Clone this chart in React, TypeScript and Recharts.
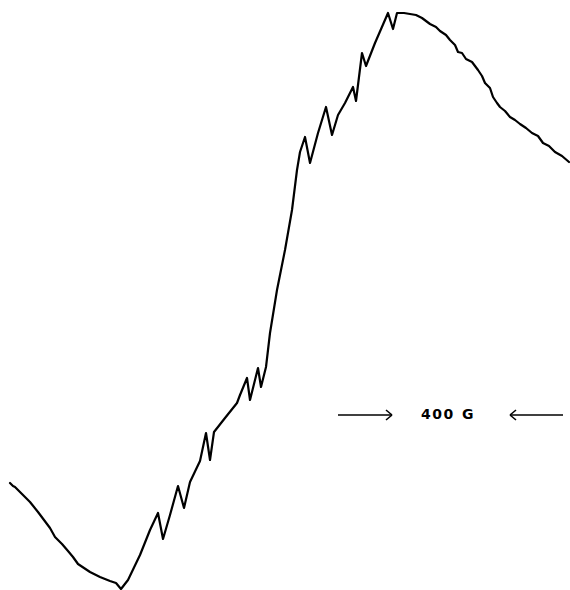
import * as React from "react";
import { LineChart, Line, XAxis, YAxis, ReferenceLine } from "recharts";

// field position (arbitrary units along the sweep) and signal amplitude
const fieldPos = [
  10, 13, 15, 22, 30, 38, 47, 50, 55, 62, 68, 73, 78, 84, 90, 100, 110, 116, 121, 128,
  140, 150, 158, 163, 170, 178, 184, 190, 200, 206, 210, 214, 225, 237, 240, 247, 250, 258, 261, 266,
  270, 277, 285, 292, 297, 300, 305, 310, 318, 326, 332, 338, 345, 353, 356, 362, 366, 375, 388, 393,
  397, 404, 410, 416, 422, 430, 436, 440, 446, 450, 455, 458, 462, 466, 472, 478, 482, 485, 490, 493,
  497, 500, 505, 510, 515, 520, 526, 532, 538, 543, 549, 555, 562, 569,
];
const signal = [
  107, 104, 103, 96, 88, 78, 66, 62, 53, 46, 39, 33, 26, 22, 18, 13, 9, 7, 1, 10,
  35, 60, 77, 51, 75, 104, 82, 108, 129, 157, 130, 158, 172, 187, 195, 212, 190, 222, 203, 223,
  257, 300, 340, 380, 420, 438, 453, 427, 457, 483, 455, 475, 487, 503, 489, 537, 524, 547, 577, 561,
  577, 577, 576, 575, 572, 566, 563, 559, 555, 550, 545, 538, 537, 531, 528, 520, 514, 507, 502, 493,
  487, 483, 479, 473, 470, 466, 462, 457, 454, 447, 444, 438, 434, 428,
];

const data = fieldPos.map((x, i) => ({ x, y: signal[i] }));

const arrowY = 175;
const arrowStyle = { stroke: "#000", strokeWidth: 1.6 };

export default function App() {
  return (
    <div style={{ position: "fixed", left: 0, top: 0, width: 570, height: 590, background: "#fff" }}>
      <LineChart width={570} height={590} data={data} margin={{ top: 0, right: 0, bottom: 0, left: 0 }}>
        <XAxis dataKey="x" type="number" domain={[0, 570]} hide />
        <YAxis type="number" domain={[0, 590]} hide />
        {/* right-pointing arrow */}
        <ReferenceLine segment={[{ x: 338, y: arrowY }, { x: 392, y: arrowY }]} {...arrowStyle} />
        <ReferenceLine segment={[{ x: 386, y: arrowY + 5 }, { x: 392, y: arrowY }]} {...arrowStyle} />
        <ReferenceLine segment={[{ x: 386, y: arrowY - 5 }, { x: 392, y: arrowY }]} {...arrowStyle} />
        {/* left-pointing arrow */}
        <ReferenceLine segment={[{ x: 510, y: arrowY }, { x: 563, y: arrowY }]} {...arrowStyle} />
        <ReferenceLine segment={[{ x: 516, y: arrowY + 5 }, { x: 510, y: arrowY }]} {...arrowStyle} />
        <ReferenceLine segment={[{ x: 516, y: arrowY - 5 }, { x: 510, y: arrowY }]} {...arrowStyle} />
        <Line
          type="linear"
          dataKey="y"
          stroke="#000"
          strokeWidth={2.2}
          strokeLinejoin="round"
          strokeLinecap="round"
          dot={false}
          activeDot={false}
          isAnimationActive={false}
        />
      </LineChart>
      <div
        style={{
          position: "absolute",
          left: 421,
          top: 406,
          fontFamily: "'DejaVu Sans', sans-serif",
          fontWeight: "bold",
          fontSize: 14,
          letterSpacing: 1.5,
          wordSpacing: 1,
          lineHeight: "16px",
          whiteSpace: "pre",
          color: "#000",
        }}
      >
        400 G
      </div>
    </div>
  );
}
